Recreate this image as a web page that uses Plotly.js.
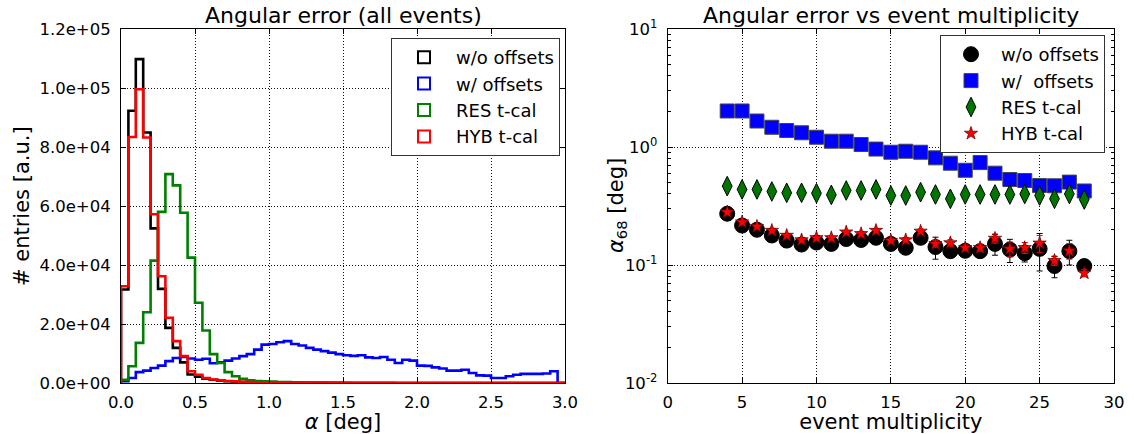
<!DOCTYPE html>
<html><head><meta charset="utf-8">
<script src="https://cdn.plot.ly/plotly-3.0.1.min.js"></script>
<style>html,body{margin:0;padding:0;background:#fff}#chart{width:1134px;height:434px}</style>
</head><body><div id="chart"></div>
<script>
// ---------- data: left panel (histograms, bin width 0.05 deg, 0..3 deg) ----------
const binWidth = 0.05;
const histNames = ['w/o offsets', 'w/ offsets', 'RES t-cal', 'HYB t-cal'];
const countsWithoutOffsets = [31700, 92300, 109800, 84900, 52400, 31900, 18700, 11900, 7000, 2900,
  2100, 1500, 1100, 800, 600, 450, 350, 280, 220, 180,
  150, 120, 100, 80, 70, 60, 50, 40, 35, 30,
  25, 20, 18, 15, 12, 10, 9, 8, 7, 6,
  5, 5, 4, 4, 3, 3, 3, 2, 2, 2,
  2, 1, 1, 1, 1, 1, 1, 1, 1, 1];
const countsWithOffsets = [600, 1700, 3700, 4200, 5100, 5900, 7400, 8500, 8800, 8300,
  7900, 8200, 6700, 7000, 7600, 8300, 9100, 9800, 11300, 13000,
  13200, 13800, 14200, 13200, 12700, 11900, 11300, 10800, 10300, 9800,
  9400, 9200, 9400, 8700, 8500, 8800, 7900, 6800, 7900, 7600,
  5900, 5800, 5300, 4900, 4200, 4200, 4500, 3400, 2600, 2500,
  1700, 1700, 2300, 2800, 3100, 3100, 3100, 3200, 4000, 0];
const countsRES = [1100, 5700, 13600, 24000, 41500, 58000, 70800, 67000, 57700, 42500,
  27200, 17800, 9800, 6800, 3700, 2300, 1400, 900, 700, 550,
  450, 360, 300, 250, 200, 170, 140, 120, 100, 85,
  70, 60, 50, 42, 36, 30, 26, 22, 19, 16,
  14, 12, 10, 9, 8, 7, 6, 5, 5, 4,
  4, 3, 3, 3, 2, 2, 2, 2, 2, 1];
const countsHYB = [32800, 83400, 99600, 83200, 57200, 36200, 22100, 14200, 9100, 4000,
  2800, 1700, 1200, 900, 700, 550, 420, 330, 260, 200,
  160, 130, 110, 90, 75, 62, 52, 44, 37, 31,
  26, 22, 19, 16, 14, 12, 10, 9, 8, 7,
  6, 5, 5, 4, 4, 3, 3, 3, 2, 2,
  2, 2, 2, 1, 1, 1, 1, 1, 1, 1];
const histTickVals = [0, 20000, 40000, 60000, 80000, 100000, 120000];
const histTickText = ['0.0e+00', '2.0e+04', '4.0e+04', '6.0e+04', '8.0e+04', '1.0e+05', '1.2e+05'];
const alphaTickVals = [0, 0.5, 1.0, 1.5, 2.0, 2.5, 3.0];
const alphaTickText = ['0.0', '0.5', '1.0', '1.5', '2.0', '2.5', '3.0'];

// ---------- data: right panel (alpha68 vs multiplicity) ----------
const multiplicity = [4, 5, 6, 7, 8, 9, 10, 11, 12, 13, 14, 15, 16, 17, 18, 19, 20, 21, 22, 23, 24, 25, 26, 27, 28];
const a68WithoutOffsets = [0.272, 0.216, 0.199, 0.178, 0.161, 0.149, 0.155, 0.151, 0.166, 0.163, 0.170, 0.151, 0.140, 0.170, 0.142, 0.131, 0.132, 0.131, 0.151, 0.135, 0.126, 0.137, 0.098, 0.131, 0.098];
const errWithoutOffsets = [0.005, 0.005, 0.005, 0.005, 0.006, 0.006, 0.006, 0.007, 0.007, 0.008, 0.008, 0.009, 0.010, 0.010, 0.030, 0.012, 0.010, 0.012, 0.030, 0.030, 0.020, 0.048, 0.020, 0.031, 0.010];
const a68WithOffsets = [2.02, 2.02, 1.66, 1.47, 1.38, 1.32, 1.21, 1.12, 1.12, 1.05, 0.96, 0.903, 0.921, 0.903, 0.809, 0.729, 0.635, 0.738, 0.600, 0.530, 0.520, 0.471, 0.469, 0.504, 0.424];
const errWithOffsets = [0.04, 0.04, 0.03, 0.03, 0.03, 0.03, 0.02, 0.02, 0.02, 0.02, 0.02, 0.02, 0.02, 0.02, 0.02, 0.02, 0.02, 0.02, 0.02, 0.02, 0.02, 0.02, 0.02, 0.02, 0.02];
const a68RES = [0.466, 0.437, 0.437, 0.420, 0.409, 0.409, 0.406, 0.393, 0.428, 0.428, 0.437, 0.388, 0.388, 0.414, 0.396, 0.364, 0.396, 0.396, 0.396, 0.396, 0.400, 0.388, 0.364, 0.400, 0.359];
const errRES = [0.008, 0.008, 0.008, 0.008, 0.008, 0.008, 0.008, 0.008, 0.008, 0.008, 0.008, 0.008, 0.008, 0.008, 0.01, 0.01, 0.01, 0.01, 0.01, 0.012, 0.012, 0.012, 0.012, 0.012, 0.012];
const a68HYB = [0.281, 0.231, 0.212, 0.196, 0.178, 0.163, 0.170, 0.170, 0.190, 0.184, 0.196, 0.161, 0.163, 0.193, 0.151, 0.154, 0.140, 0.140, 0.168, 0.137, 0.140, 0.153, 0.109, 0.132, 0.0855];
const errHYB = [0.004, 0.004, 0.004, 0.004, 0.005, 0.005, 0.005, 0.006, 0.006, 0.007, 0.007, 0.008, 0.008, 0.009, 0.010, 0.010, 0.008, 0.010, 0.015, 0.020, 0.015, 0.025, 0.010, 0.020, 0.006];
const logTickVals = [0.01, 0.1, 1, 10];
const logTickText = ['10<sup>-2</sup>', '10<sup>-1</sup>', '10<sup>0</sup>', '10<sup>1</sup>'];
const multTickVals = [0, 5, 10, 15, 20, 25, 30];

// ---------- build ----------
const FONT = 'DejaVu Sans, Liberation Sans, sans-serif';
function stepXY(counts) {
  const x = [0], y = [0];
  counts.forEach((c, i) => { x.push(i * binWidth); y.push(c); });
  x.push(counts.length * binWidth); y.push(counts[counts.length - 1]);
  x.push(counts.length * binWidth); y.push(0);
  return {x, y};
}
const histColors = ['#000000', '#0000ff', '#008000', '#ff0000'];
const histData = [countsWithoutOffsets, countsWithOffsets, countsRES, countsHYB];
const traces = [];
// legend entries: same data, open-square markers kept fully unselected (hidden in the plot, box icon in the legend)
histData.forEach((counts, k) => {
  const s = stepXY(counts);
  traces.push({type: 'scatter', mode: 'markers', x: s.x, y: s.y, xaxis: 'x', yaxis: 'y',
    name: histNames[k], legend: 'legend', hoverinfo: 'skip',
    selectedpoints: [], unselected: {marker: {opacity: 0}},
    marker: {symbol: 'square-open', size: 12, color: histColors[k], line: {color: histColors[k], width: 2.6}}});
});
histData.forEach((counts, k) => {
  const s = stepXY(counts);
  traces.push({type: 'scatter', mode: 'lines', x: s.x, y: s.y, xaxis: 'x', yaxis: 'y',
    line: {color: histColors[k], width: 2.6, shape: 'hv'}, showlegend: false, hoverinfo: 'skip'});
});

function errTrace(name, y, err, color, symbol, size, mcolor, lcolor, lwidth) {
  return {type: 'scatter', mode: 'markers', x: multiplicity, y: y, name: name, xaxis: 'x2', yaxis: 'y2', legend: 'legend2',
    error_y: {type: 'data', array: err, visible: true, color: color, thickness: 1, width: 3},
    marker: {symbol: symbol, size: size, color: mcolor, line: {color: lcolor, width: lwidth}}};
}
traces.push(errTrace('w/o offsets', a68WithoutOffsets, errWithoutOffsets, '#000000', 'circle', 15, '#000000', '#000000', 1));
traces.push(errTrace('w/\u00a0 offsets', a68WithOffsets, errWithOffsets, '#0000ff', 'square', 14, '#0000ff', '#444444', 1));
traces.push(errTrace('RES t-cal', a68RES, errRES, '#008000', 'diamond-tall', 14, '#007500', '#000000', 1));
traces.push(errTrace('HYB t-cal', a68HYB, errHYB, '#ff0000', 'star', 10, '#ff0000', '#550000', 0.7));

const W = 1134, H = 434;
const px = v => v / W, py = v => 1 - v / H;
const axBase = {
  showline: true, linecolor: '#000', linewidth: 1, mirror: 'ticks',
  ticks: 'inside', ticklen: 5, tickcolor: '#000', tickwidth: 1,
  showgrid: true, gridcolor: '#111', gridwidth: 1, griddash: '1px,2px',
  zeroline: false, tickfont: {family: FONT, size: 16.5, color: '#000'},
  fixedrange: true
};
const layout = {
  width: W, height: H, margin: {l: 0, r: 0, t: 0, b: 0},
  paper_bgcolor: '#fff', plot_bgcolor: '#fff',
  font: {family: FONT, color: '#000'},
  xaxis: Object.assign({}, axBase, {domain: [px(121), px(565)], range: [0, 3], anchor: 'y',
    tickmode: 'array', tickvals: alphaTickVals, ticktext: alphaTickText, ticklabelstandoff: 4,
    title: {text: '<i>α</i> [deg]', font: {family: FONT, size: 21}, standoff: 4}}),
  yaxis: Object.assign({}, axBase, {domain: [py(383), py(29)], range: [0, 120000], anchor: 'x',
    tickmode: 'array', tickvals: histTickVals, ticktext: histTickText, ticklabelstandoff: 6}),
  xaxis2: Object.assign({}, axBase, {domain: [px(667.7), px(1114)], range: [0, 30], anchor: 'y2',
    tickmode: 'array', tickvals: multTickVals, ticklabelstandoff: 4,
    title: {text: 'event multiplicity', font: {family: FONT, size: 21}, standoff: 4}}),
  yaxis2: Object.assign({}, axBase, {domain: [py(383), py(29)], type: 'log', range: [-2, 1], anchor: 'x2',
    tickmode: 'array', tickvals: logTickVals, ticktext: logTickText, ticklabelstandoff: 6,
    minor: {ticks: 'inside', ticklen: 3, tickcolor: '#000', dtick: 'D1', showgrid: false}}),
  legend: {x: px(560), xanchor: 'right', y: py(38), yanchor: 'top', bgcolor: '#fff',
    bordercolor: '#333', borderwidth: 1, font: {family: FONT, size: 18, color: '#000'},
    itemwidth: 54, itemsizing: 'constant', tracegroupgap: 0},
  legend2: {x: px(1105), xanchor: 'right', y: py(35), yanchor: 'top', bgcolor: '#fff',
    bordercolor: '#333', borderwidth: 1, font: {family: FONT, size: 18, color: '#000'},
    itemwidth: 50, itemsizing: 'trace'},
  annotations: [
    {text: 'Angular error (all events)', xref: 'paper', yref: 'paper', x: px(343), y: py(15),
      xanchor: 'center', yanchor: 'middle', showarrow: false, font: {family: FONT, size: 22, color: '#000'}},
    {text: 'Angular error vs event multiplicity', xref: 'paper', yref: 'paper', x: px(891), y: py(15),
      xanchor: 'center', yanchor: 'middle', showarrow: false, font: {family: FONT, size: 22, color: '#000'}},
    {text: '# entries [a.u.]', xref: 'paper', yref: 'paper', x: px(22), y: py(206), textangle: -90,
      xanchor: 'center', yanchor: 'middle', showarrow: false, font: {family: FONT, size: 21, color: '#000'}},
    {text: '<i>α</i><sub>68</sub> [deg]', xref: 'paper', yref: 'paper', x: px(617), y: py(206), textangle: -90,
      xanchor: 'center', yanchor: 'middle', showarrow: false, font: {family: FONT, size: 21, color: '#000'}}
  ],
  showlegend: true
};
Plotly.newPlot('chart', traces, layout, {displayModeBar: false, staticPlot: true});
</script></body></html>
